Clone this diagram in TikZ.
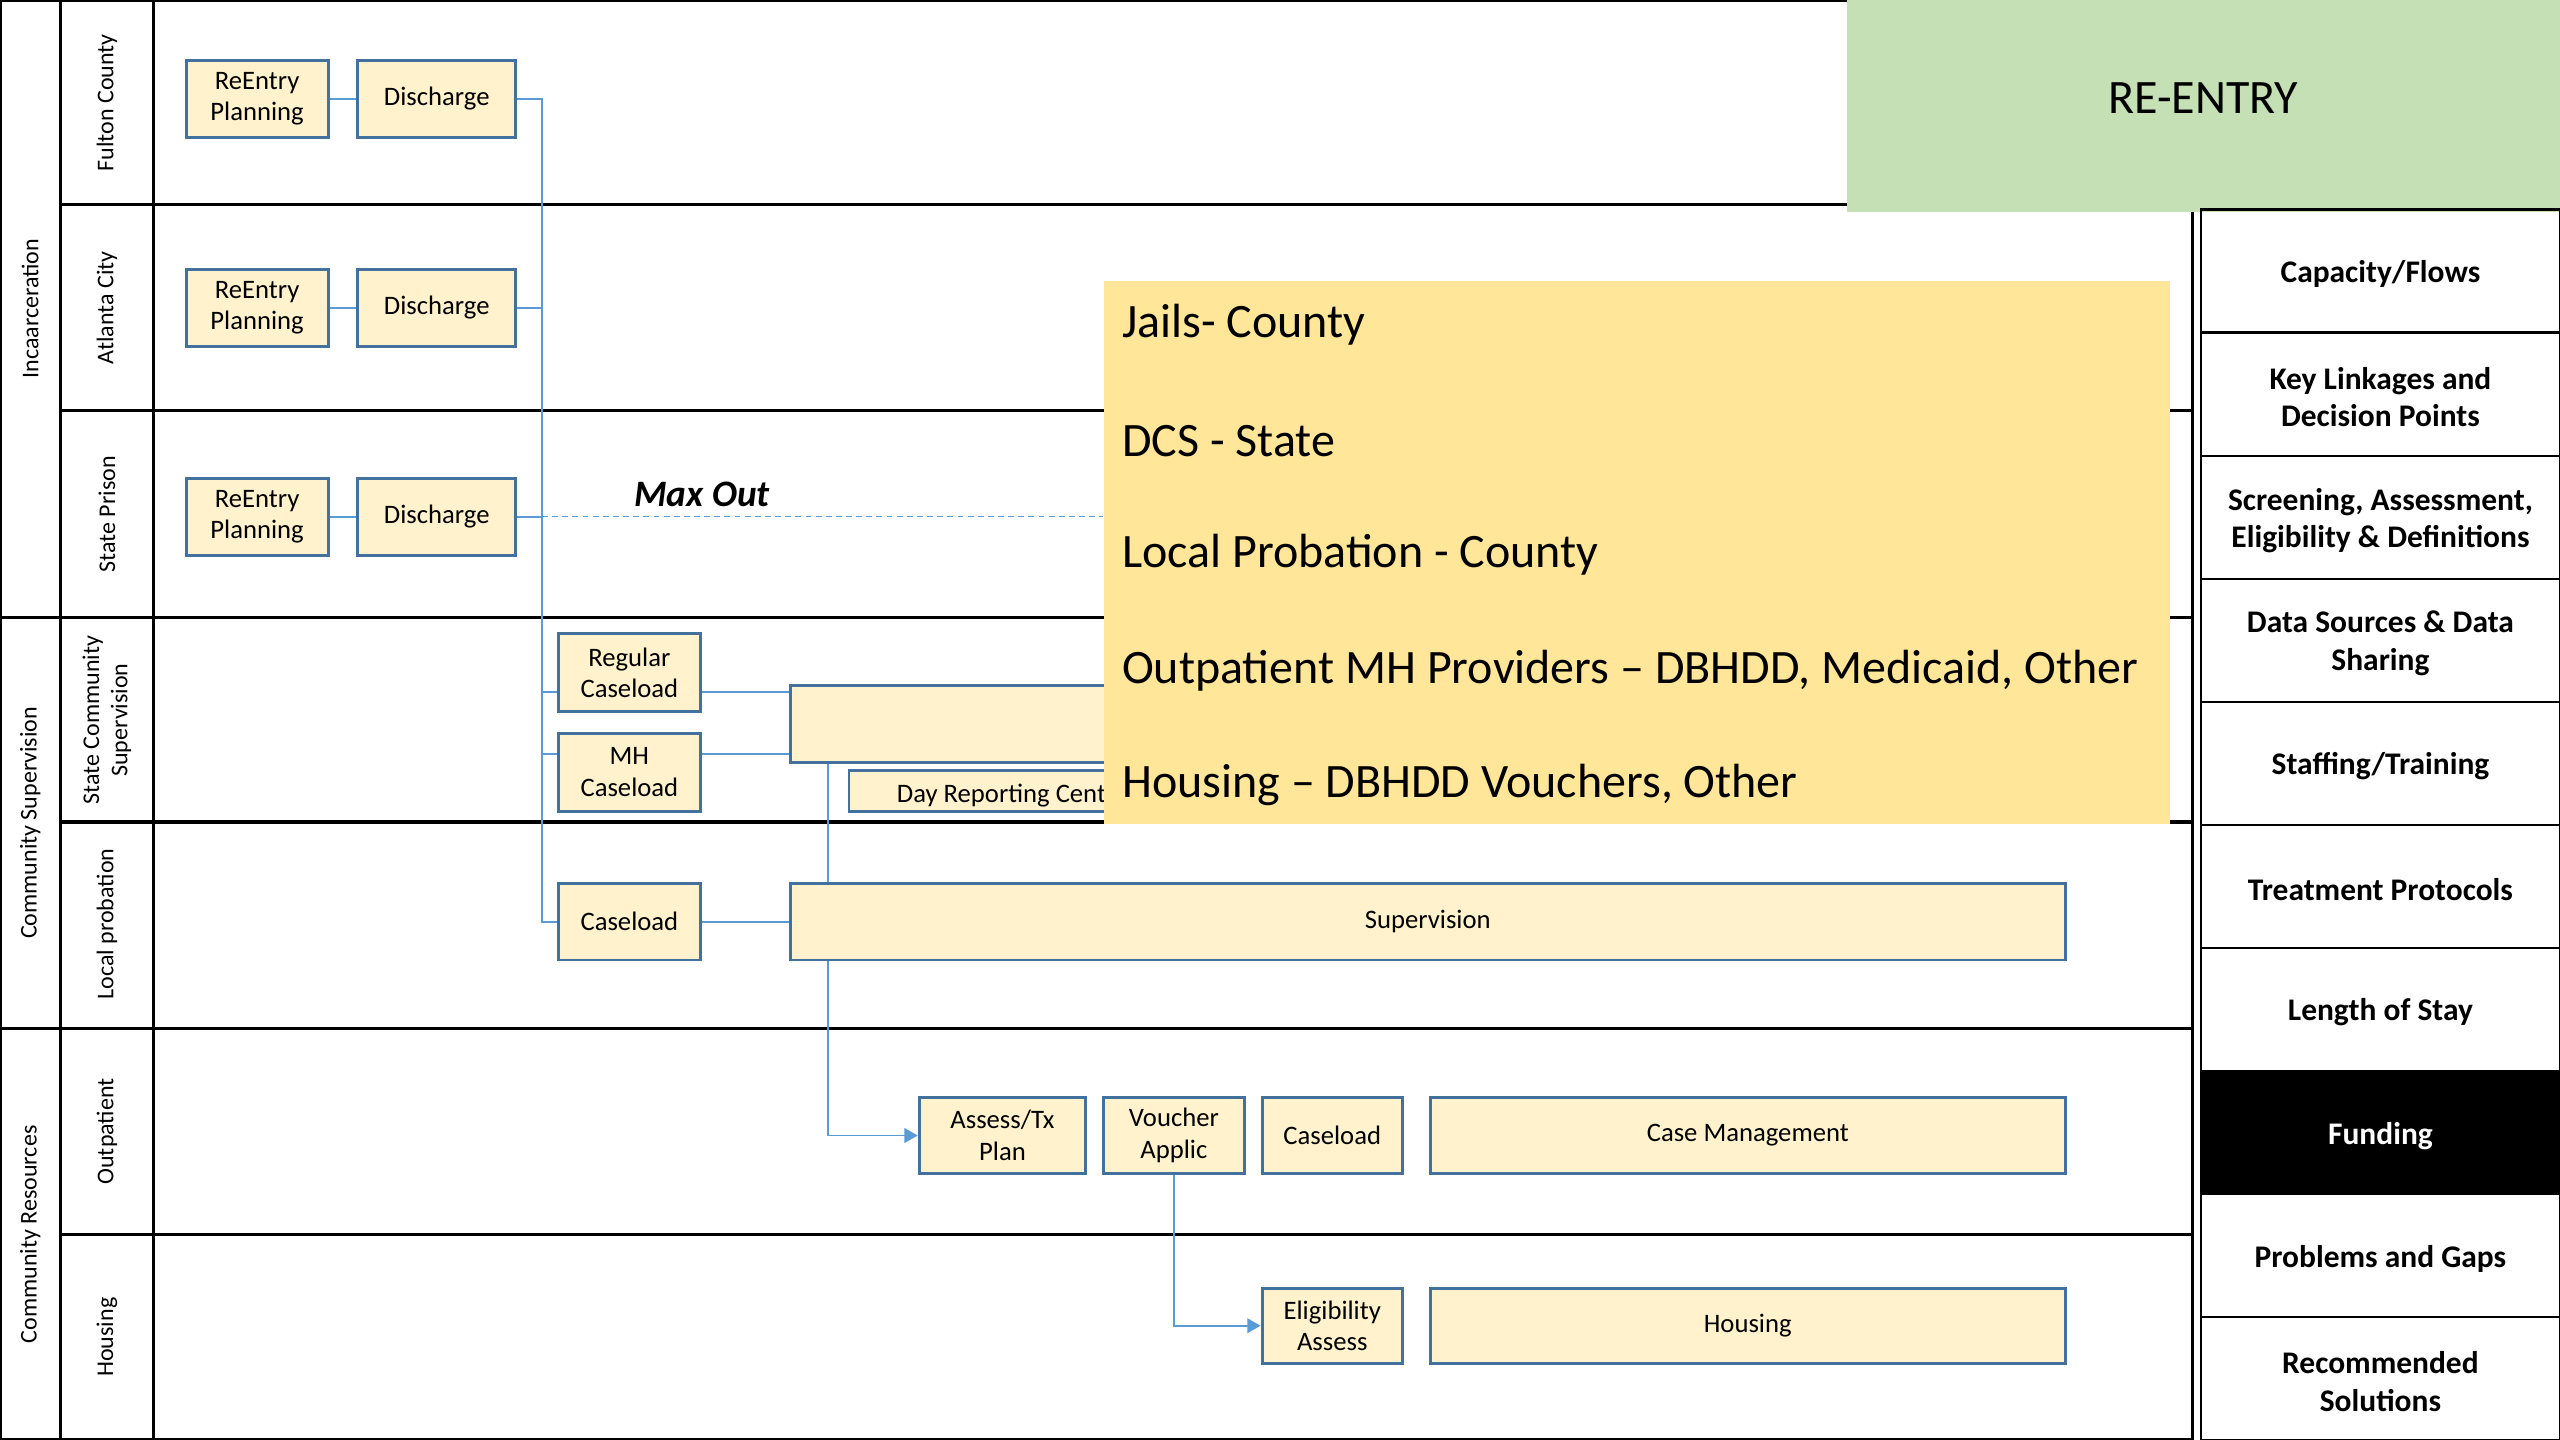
\documentclass[tikz,border=0pt]{standalone}
\usepackage{fontspec}
\setmainfont{Carlito}
\usetikzlibrary{arrows.meta}
\definecolor{boxfill}{HTML}{FFF2CC}
\definecolor{boxline}{HTML}{41719C}
\definecolor{conncol}{HTML}{5B9BD5}
\definecolor{ovfill}{HTML}{FFE699}
\definecolor{greenfill}{HTML}{C5E0B4}
\begin{document}
\begin{tikzpicture}[x=0.61224pt,y=-0.61224pt,
  bx/.style={draw=boxline, fill=boxfill, line width=1.1pt, inner sep=0pt, align=center, font=\fontsize{10}{11.8}\selectfont},
  sz/.style 2 args={minimum width=#1*0.61224pt, minimum height=#2*0.61224pt},
  conn/.style={draw=conncol, line width=0.7pt},
  arr/.style={conn, -{Triangle[length=5pt,width=5.5pt]}},
  gridline/.style={line width=1.2pt, black},
  rl/.style={rotate=90, font=\fontsize{9}{10.6}\selectfont, align=center, inner sep=0pt},
  pcell/.style={draw=black, line width=0.8pt},
  pt/.style={inner sep=0pt, align=center, font=\fontsize{11.8}{14}\selectfont\bfseries},
  ovt/.style={anchor=west, inner sep=0pt, font=\fontsize{18}{21.6}\selectfont}
]
\useasboundingbox (0,0) rectangle (1568,882);
\fill[white] (0,0) rectangle (1568,882);

% ---------- table grid ----------
\draw[gridline] (0,0) -- (1343,0);
\draw[gridline] (0,882) -- (1343,882);
\draw[gridline] (0,0) -- (0,882);
\draw[gridline] (37,0) -- (37,882);
\draw[gridline] (94,0) -- (94,882);
\draw[gridline] (1343,0) -- (1343,882);
\draw[gridline] (37,125.5) -- (1343,125.5);
\draw[gridline] (37,251.5) -- (1343,251.5);
\draw[gridline] (0,378) -- (1343,378);
\draw[gridline] (37,503.5) -- (1343,503.5);
\draw[gridline] (0,630) -- (1343,630);
\draw[gridline] (37,756) -- (1343,756);

% ---------- labels ----------
\node[rl] (gInc) at (18.5,189) {Incaarceration};
\node[rl] (gCS) at (18.5,504) {Community Supervision};
\node[rl] (gCR) at (18.5,756) {Community Resources};
\node[rl] (lFul) at (65.5,63) {Fulton County};
\node[rl] (lAtl) at (65.5,188.5) {Atlanta City};
\node[rl] (lSP) at (65.5,315) {State Prison};
\node[rl] (lSCS) at (65.5,441) {State Community\\Supervision};
\node[rl] (lLP) at (65.5,566) {Local probation};
\node[rl] (lOut) at (65.5,693) {Outpatient};
\node[rl] (lHou) at (65.5,819) {Housing};

% ---------- boxes ----------
\node[bx, sz={87}{47}] (rp1) at (157.5,60.5) {ReEntry\\Planning};
\node[bx, sz={97}{47}] (dc1) at (267.5,60.5) {Discharge};
\node[bx, sz={87}{47}] (rp2) at (157.5,188.5) {ReEntry\\Planning};
\node[bx, sz={97}{47}] (dc2) at (267.5,188.5) {Discharge};
\node[bx, sz={87}{47}] (rp3) at (157.5,316.5) {ReEntry\\Planning};
\node[bx, sz={97}{47}] (dc3) at (267.5,316.5) {Discharge};

\node[bx, sz={87}{48}] (reg) at (385.5,412) {Regular\\Caseload};
\node[bx, sz={87}{48}] (mh) at (385.5,473) {MH\\Caseload};
\node[bx, sz={87}{47}] (cl) at (385.5,564.5) {Caseload};

\node[bx, sz={781}{47}] (ssup) at (874.5,443.5) {};
\node[bx, sz={200}{25}] (drc) at (620,484.5) {};
\node[anchor=west, inner sep=0pt, font=\fontsize{10}{11.8}\selectfont] (drct) at (549,487) {Day Reporting Cent};
\node[bx, sz={781}{47}] (sup) at (874.5,564.5) {Supervision};

\node[bx, sz={102}{47}] (atp) at (614,695.5) {Assess/Tx\\Plan};
\node[bx, sz={86}{47}] (va) at (719,695.5) {Voucher\\Applic};
\node[bx, sz={86}{47}] (cl2) at (816,695.5) {Caseload};
\node[bx, sz={389}{47}] (cm) at (1070.5,695.5) {Case Management};
\node[bx, sz={86}{46}] (ea) at (816,812) {Eligibility\\Assess};
\node[bx, sz={389}{46}] (hs) at (1070.5,812) {Housing};

% ---------- connectors ----------
\coordinate (tTop) at (332,60.5);
\coordinate (tBot) at (332,564.5);
\coordinate (vx) at (507,0);
\draw[conn] (rp1) -- (dc1);
\draw[conn] (rp2) -- (dc2);
\draw[conn] (rp3) -- (dc3);
\draw[conn] (dc1.east) -- (tTop) -- (tBot) -- (cl.west);
\draw[conn] (dc2.east) -- (dc2.east -| tTop);
\draw[conn] (dc3.east) -- (dc3.east -| tTop);
\draw[conn] (reg.west |- 0,424) -- (tTop |- 0,424);
\draw[conn] (mh.west |- 0,462) -- (tTop |- 0,462);
\draw[conn] (reg.east |- 0,424) -- (ssup.west |- 0,424);
\draw[conn] (mh.east |- 0,462) -- (ssup.west |- 0,462);
\draw[conn] (cl.east) -- (sup.west);
\draw[conn] (ssup.south -| vx) -- (sup.north -| vx);
\draw[arr] (sup.south -| vx) |- (atp.west);
\draw[arr] (va.south) |- (ea.west);

% ---------- green header ----------
\fill[greenfill] (1131,0) rectangle (1568,130);
\node[inner sep=0pt, font=\fontsize{18}{21.6}\selectfont] (reentry) at (1349.5,60) {RE-ENTRY};

% ---------- right panel ----------
\draw[pcell] (1348,128.3) rectangle (1568,882);
\fill[black] (1348,656.1) rectangle (1568,731.5);
\foreach \k in {1,...,9} { \draw[pcell] (1348,128.3+75.37*\k) -- (1568,128.3+75.37*\k); }
\node[pt] (p1) at (1458,168.0) {Capacity/Flows};
\node[pt] (p2) at (1458,243.4) {Key Linkages and\\Decision Points};
\node[pt] (p3) at (1458,318.7) {Screening, Assessment,\\Eligibility \& Definitions};
\node[pt] (p4) at (1458,394.1) {Data Sources \& Data\\Sharing};
\node[pt] (p5) at (1458,469.5) {Staffing/Training};
\node[pt] (p6) at (1458,544.8) {Treatment Protocols};
\node[pt] (p7) at (1458,620.2) {Length of Stay};
\node[pt, text=white] (p8) at (1458,695.6) {Funding};
\node[pt] (p9) at (1458,771.0) {Problems and Gaps};
\node[pt] (p10) at (1458,846.3) {Recommended\\Solutions};

% ---------- overlay ----------
\node[fill=ovfill, inner sep=0pt, minimum width=653*0.61224pt, minimum height=333*0.61224pt] (ov) at (1002.5,338.5) {};
\draw[conn, dash pattern=on 2.2pt off 1.6pt, line width=0.5pt] (dc3.east -| tTop) -- (dc3.east -| ov.west);
\node[inner sep=0pt, font=\fontsize{14}{16}\selectfont\bfseries\itshape] (maxout) at (430,303) {Max Out};
\node[ovt] (ov1) at (687,199) {Jails- County};
\node[ovt] (ov2) at (687,270) {DCS - State};
\node[ovt] (ov3) at (687,340) {Local Probation - County};
\node[ovt] (ov4) at (687,411) {Outpatient MH Providers – DBHDD, Medicaid, Other};
\node[ovt] (ov5) at (687,481) {Housing – DBHDD Vouchers, Other};
\end{tikzpicture}
\end{document}
